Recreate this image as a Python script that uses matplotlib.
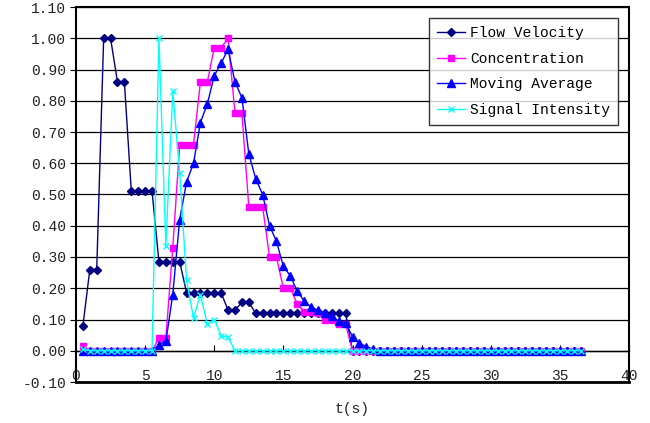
import numpy as np
import matplotlib
matplotlib.use('Agg')
import matplotlib.pyplot as plt

plt.rcParams['font.family'] = ['Liberation Mono', 'DejaVu Sans']

# sampling times (s)
t = np.arange(0.5, 37.0, 0.5)

flow_velocity = [0.08, 0.26, 0.26, 1.00, 1.00, 0.86, 0.86, 0.51, 0.51, 0.51, 0.51,
                 0.285, 0.285, 0.285, 0.285, 0.185, 0.185, 0.185, 0.185, 0.185, 0.185,
                 0.13, 0.13, 0.155, 0.155,
                 0.12, 0.12, 0.12, 0.12, 0.12, 0.12, 0.12, 0.12, 0.12, 0.12, 0.12, 0.12, 0.12, 0.12] \
                + [0.0] * 34

concentration = [0.015] + [0.0] * 10 + \
                [0.04, 0.04, 0.33, 0.66, 0.66, 0.66, 0.86, 0.86, 0.97, 0.97, 1.00,
                 0.76, 0.76, 0.46, 0.46, 0.46, 0.30, 0.30, 0.20, 0.20, 0.15,
                 0.125, 0.125, 0.12, 0.10, 0.10, 0.085, 0.085] + [0.0] * 34

moving_average = [0.0] * 11 + \
                 [0.02, 0.03, 0.18, 0.42, 0.54, 0.60, 0.73, 0.79, 0.88, 0.92, 0.965,
                  0.86, 0.81, 0.63, 0.55, 0.50, 0.40, 0.35, 0.27, 0.24, 0.19,
                  0.16, 0.14, 0.13, 0.12, 0.11, 0.095, 0.09, 0.045, 0.025, 0.013, 0.005] + [0.0] * 30

signal_intensity = [0.005] + [0.0] * 10 + \
                   [1.00, 0.335, 0.83, 0.57, 0.225, 0.105, 0.18, 0.085, 0.10, 0.048, 0.043] + [0.0] * 51

series = [
    ('Flow Velocity', flow_velocity, '#000080', 'D', 4.5),
    ('Concentration', concentration, '#FF00FF', 's', 5),
    ('Moving Average', moving_average, '#0000FF', '^', 6),
    ('Signal Intensity', signal_intensity, '#00FFFF', 'x', 5),
]

fig = plt.figure(figsize=(6.5, 4.23), dpi=100)
ax = fig.add_axes([76 / 650, 1 - 382 / 423, (629 - 76) / 650, (382 - 7) / 423])

for name, vals, col, mk, ms in series:
    ax.plot(t, vals, color=col, lw=1.0, marker=mk, markersize=ms,
            markerfacecolor=col, markeredgecolor=col, markeredgewidth=1.0,
            label=name, zorder=3)

ax.set_xlim(0, 40)
ax.set_ylim(-0.1, 1.1)
ax.set_xticks(np.arange(0, 41, 5))
ax.set_yticks(np.arange(-0.1, 1.11, 0.1))
ax.set_yticklabels(['%.2f' % v for v in np.arange(-0.1, 1.11, 0.1)])
ax.yaxis.grid(True, color='black', lw=0.9)
ax.set_axisbelow(True)

# category axis crosses at zero, labels sit at the bottom
ax.spines['bottom'].set_position(('data', 0))
ax.spines['bottom'].set_linewidth(1.0)
ax.axhline(-0.1, color='black', lw=2, clip_on=False, zorder=4)
for s in ['left', 'top', 'right']:
    ax.spines[s].set_linewidth(1.5)
ax.tick_params(axis='x', direction='in', length=4, pad=13, labelsize=10.5, colors='black')
ax.tick_params(axis='y', direction='out', length=4, pad=3, labelsize=10.5, colors='black')
for lab in ax.get_xticklabels() + ax.get_yticklabels():
    lab.set_color('#222222')

ax.set_xlabel('t(s)', fontsize=10.5, labelpad=14, color='#222222')

leg = ax.legend(loc='upper right', fontsize=10.5, frameon=True, fancybox=False,
                edgecolor='black', borderaxespad=0.75, handlelength=1.9,
                handletextpad=0.35, labelspacing=0.8, borderpad=0.55)
leg.get_frame().set_linewidth(1.0)

fig.savefig('out.png', dpi=100)
